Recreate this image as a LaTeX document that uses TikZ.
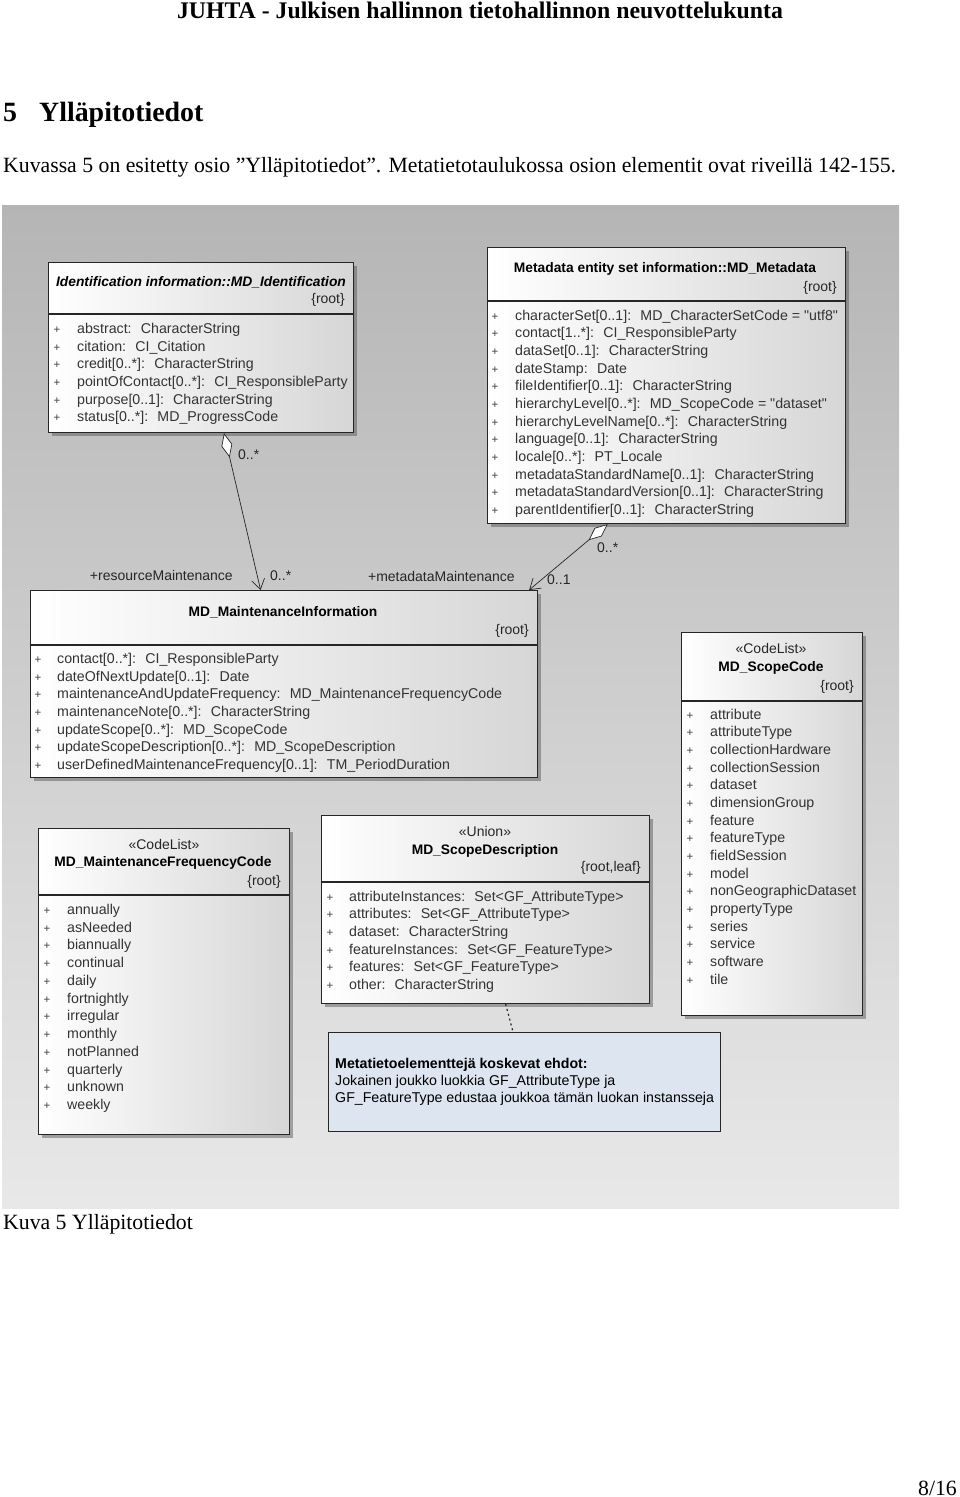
\documentclass[tikz,border=0pt]{standalone}
\usepackage{fontspec}
\setmainfont{Liberation Serif}
\newfontfamily\umlfont{Liberation Sans}
\usetikzlibrary{arrows.meta,shadows}
\definecolor{notefill}{RGB}{221,229,240}

\begin{document}
\begin{tikzpicture}[x=1pt,y=-1pt,
  my box/.style={draw=black!85,line width=1.1pt,anchor=north west,inner sep=0pt,
    left color=white,right color=black!16,
    drop shadow={shadow xshift=3pt,shadow yshift=-3pt,opacity=0.45,fill=black!70}},
  my note/.style={draw=black!85,line width=1.1pt,anchor=north west,inner sep=0pt,
    fill=notefill},
  my title/.style={anchor=mid,inner sep=0pt,yshift=-3pt,font=\umlfont\bfseries\fontsize{13.8}{15}\selectfont},
  my tag/.style={inner sep=0pt,yshift=-3pt,text=black!85,font=\umlfont\fontsize{14}{15}\selectfont},
  my attr/.style={anchor=mid west,inner sep=0pt,yshift=-3pt,text=black!80,font=\umlfont\fontsize{14.2}{15}\selectfont},
  my plus/.style={anchor=mid,inner sep=0pt,yshift=-3pt,text=black!75,font=\umlfont\fontsize{11.5}{13}\selectfont},
  my sep/.style={draw=black!85,line width=1.3pt},
  my end/.style={inner sep=0pt,yshift=-3pt,text=black!85,font=\umlfont\fontsize{14}{15}\selectfont},
  my assoc/.style={draw=black!85,line width=0.7pt,
    arrows={Diamond[fill=white,length=25pt,width=11pt]-Straight Barb[length=10pt,width=13pt]}},
  my link/.style={draw=black!85,line width=1.2pt,dash pattern=on 2pt off 3pt},
  page text/.style={inner sep=0pt,anchor=base west},
]
  \useasboundingbox (0,0) rectangle (960,1497);
  \fill[white] (0,0) rectangle (960,1497);

  % page text
  \node[page text,anchor=base] (head) at (480,18) {\fontsize{23.8}{26}\selectfont\bfseries JUHTA - Julkisen hallinnon tietohallinnon neuvottelukunta};
  \node[page text] (sec) at (3,121) {\fontsize{27.9}{30}\selectfont\bfseries 5\hspace{22pt}Ylläpitotiedot};
  \node[page text] (par) at (3,172) {\fontsize{21.75}{24}\selectfont Kuvassa 5 on esitetty osio ”Ylläpitotiedot”. Metatietotaulukossa osion elementit ovat riveillä 142-155.};
  \node[page text] (cap) at (3,1229) {\fontsize{21.75}{24}\selectfont Kuva 5 Ylläpitotiedot};
  \node[page text,anchor=base east] (pg) at (957,1495) {\fontsize{21.75}{24}\selectfont 8/16};

  % diagram background
  \shade[top color=black!29,bottom color=black!9] (2,205) rectangle (899,1208);

  % MD_Identification
  \node[my box,minimum width=305pt,minimum height=170pt] (ident) at (48,262) {};
  \node[my title,font=\umlfont\bfseries\itshape\fontsize{13.8}{15}\selectfont] (ident-t) at (201,281) {Identification information::MD\_Identification};
  \node[my tag,anchor=mid east] (ident-r) at (345,298) {\{root\}};
  \draw[my sep] (ident.west |- 0,314) -- (ident.east |- 0,314);
  \foreach \t [count=\i from 0] in {abstract:~ CharacterString, citation:~ CI\_Citation,
      credit[0..*]:~ CharacterString, pointOfContact[0..*]:~ CI\_ResponsibleParty,
      purpose[0..1]:~ CharacterString, status[0..*]:~ MD\_ProgressCode} {
    \node[my plus] (ident-p\i) at (57,328+17.7*\i) {+};
    \node[my attr] (ident-\i) at (77,328+17.7*\i) {\t};
  }

  % MD_Metadata
  \node[my box,minimum width=358pt,minimum height=276pt] (meta) at (487,247) {};
  \node[my title] (meta-t) at (665,267) {Metadata entity set information::MD\_Metadata};
  \node[my tag,anchor=mid east] (meta-r) at (837,286) {\{root\}};
  \draw[my sep] (meta.west |- 0,301) -- (meta.east |- 0,301);
  \foreach \t [count=\i from 0] in {characterSet[0..1]:~ MD\_CharacterSetCode = "utf8",
      contact[1..*]:~ CI\_ResponsibleParty, dataSet[0..1]:~ CharacterString,
      dateStamp:~ Date, fileIdentifier[0..1]:~ CharacterString,
      hierarchyLevel[0..*]:~ MD\_ScopeCode = "dataset",
      hierarchyLevelName[0..*]:~ CharacterString, language[0..1]:~ CharacterString,
      locale[0..*]:~ PT\_Locale, metadataStandardName[0..1]:~ CharacterString,
      metadataStandardVersion[0..1]:~ CharacterString,
      parentIdentifier[0..1]:~ CharacterString} {
    \node[my plus] (meta-p\i) at (495,315+17.64*\i) {+};
    \node[my attr] (meta-\i) at (515,315+17.64*\i) {\t};
  }

  % MD_MaintenanceInformation
  \node[my box,minimum width=507pt,minimum height=187pt] (maint) at (30,590) {};
  \node[my title] (maint-t) at (283,611) {MD\_MaintenanceInformation};
  \node[my tag,anchor=mid east] (maint-r) at (529,629) {\{root\}};
  \draw[my sep] (maint.west |- 0,645) -- (maint.east |- 0,645);
  \foreach \t [count=\i from 0] in {contact[0..*]:~ CI\_ResponsibleParty,
      dateOfNextUpdate[0..1]:~ Date,
      maintenanceAndUpdateFrequency:~ MD\_MaintenanceFrequencyCode,
      maintenanceNote[0..*]:~ CharacterString, updateScope[0..*]:~ MD\_ScopeCode,
      updateScopeDescription[0..*]:~ MD\_ScopeDescription,
      userDefinedMaintenanceFrequency[0..1]:~ TM\_PeriodDuration} {
    \node[my plus] (maint-p\i) at (38,658+17.7*\i) {+};
    \node[my attr] (maint-\i) at (57,658+17.7*\i) {\t};
  }

  % MD_ScopeCode
  \node[my box,minimum width=181pt,minimum height=383pt] (scode) at (681,632) {};
  \node[my tag,anchor=mid] (scode-s) at (771,648) {«CodeList»};
  \node[my title] (scode-t) at (771,666) {MD\_ScopeCode};
  \node[my tag,anchor=mid east] (scode-r) at (854,685) {\{root\}};
  \draw[my sep] (scode.west |- 0,701) -- (scode.east |- 0,701);
  \foreach \t [count=\i from 0] in {attribute, attributeType, collectionHardware,
      collectionSession, dataset, dimensionGroup, feature, featureType, fieldSession,
      model, nonGeographicDataset, propertyType, series, service, software, tile} {
    \node[my plus] (scode-p\i) at (690,714+17.65*\i) {+};
    \node[my attr] (scode-\i) at (710,714+17.65*\i) {\t};
  }

  % MD_MaintenanceFrequencyCode
  \node[my box,minimum width=251pt,minimum height=306pt] (freq) at (38,828) {};
  \node[my tag,anchor=mid] (freq-s) at (164,844) {«CodeList»};
  \node[my title] (freq-t) at (163,861) {MD\_MaintenanceFrequencyCode};
  \node[my tag,anchor=mid east] (freq-r) at (281,880) {\{root\}};
  \draw[my sep] (freq.west |- 0,895) -- (freq.east |- 0,895);
  \foreach \t [count=\i from 0] in {annually, asNeeded, biannually, continual, daily,
      fortnightly, irregular, monthly, notPlanned, quarterly, unknown, weekly} {
    \node[my plus] (freq-p\i) at (47,909+17.75*\i) {+};
    \node[my attr] (freq-\i) at (67,909+17.75*\i) {\t};
  }

  % MD_ScopeDescription
  \node[my box,minimum width=328pt,minimum height=188pt] (sdesc) at (321,815) {};
  \node[my tag,anchor=mid] (sdesc-s) at (485,831) {«Union»};
  \node[my title] (sdesc-t) at (485,849) {MD\_ScopeDescription};
  \node[my tag,anchor=mid east] (sdesc-r) at (641,866) {\{root,leaf\}};
  \draw[my sep] (sdesc.west |- 0,882) -- (sdesc.east |- 0,882);
  \foreach \t [count=\i from 0] in {attributeInstances:~ Set<GF\_AttributeType>,
      attributes:~ Set<GF\_AttributeType>, dataset:~ CharacterString,
      featureInstances:~ Set<GF\_FeatureType>, features:~ Set<GF\_FeatureType>,
      other:~ CharacterString} {
    \node[my plus] (sdesc-p\i) at (330,896+17.6*\i) {+};
    \node[my attr] (sdesc-\i) at (349,896+17.6*\i) {\t};
  }

  % note
  \node[my note,minimum width=392pt,minimum height=99pt] (note) at (328,1032) {};
  \node[my attr,text=black] (note-0) at (335,1063) {\bfseries Metatietoelementtejä koskevat ehdot:};
  \node[my attr,text=black] (note-1) at (335,1080) {Jokainen joukko luokkia GF\_AttributeType ja};
  \node[my attr,text=black] (note-2) at (335,1097) {GF\_FeatureType edustaa joukkoa tämän luokan instansseja};

  % associations
  \draw[my assoc] (ident.-75.8) -- (maint.104.7);
  \draw[my assoc] (meta.-113.85) -- (maint.21.4);
  \draw[my link] (sdesc.-78) -- (note.103.6);

  % role names and multiplicities
  \node[my end,anchor=mid west] (m1) at (238,454) {0..*};
  \node[my end,anchor=mid east] (r1) at (233,575) {+resourceMaintenance};
  \node[my end,anchor=mid west] (m2) at (270,575) {0..*};
  \node[my end,anchor=mid west] (m3) at (597,547) {0..*};
  \node[my end,anchor=mid east] (r2) at (515,576) {+metadataMaintenance};
  \node[my end,anchor=mid west] (m4) at (547,579) {0..1};
\end{tikzpicture}
\end{document}
